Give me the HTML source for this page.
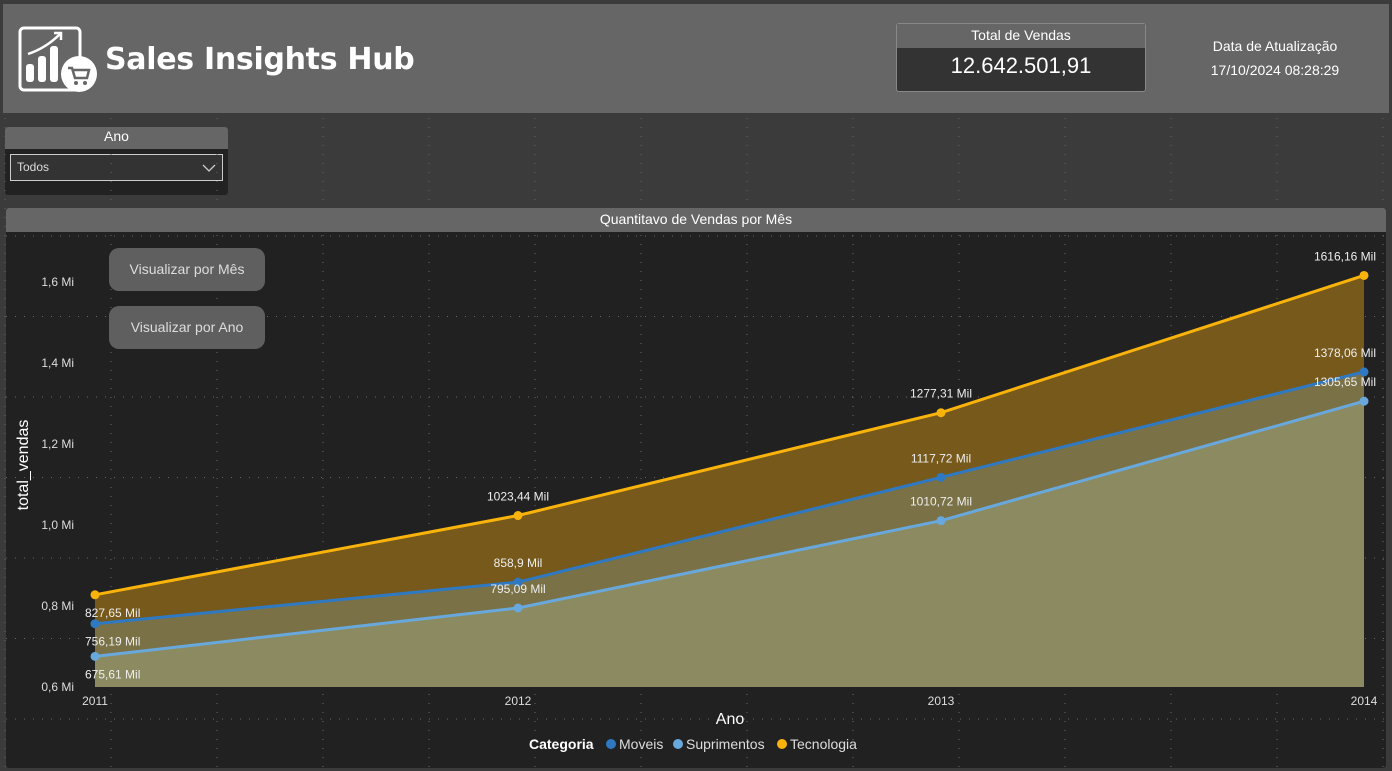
<!DOCTYPE html>
<html><head><meta charset="utf-8"><style>
body{margin:0;width:1392px;height:771px;background:#3b3b3b;overflow:hidden;font-family:"Liberation Sans",sans-serif;position:relative}
.abs{position:absolute}
</style></head><body>
<div class="abs" style="left:3px;top:4px;width:1386px;height:109px;background:#666"></div>
<svg class="abs" style="left:18px;top:26px" width="82" height="68" viewBox="0 0 82 68">
<rect x="2" y="2" width="60" height="62" rx="4" fill="none" stroke="#fff" stroke-width="3"/>
<rect x="8" y="38" width="8" height="18" rx="3" fill="#fff"/><rect x="20" y="30" width="8" height="26" rx="3" fill="#fff"/><rect x="32" y="20" width="8" height="36" rx="3" fill="#fff"/>
<path d="M10 28 Q28 22 42 8" stroke="#fff" stroke-width="2.5" fill="none"/><path d="M36 7 L43 7 L43 14" stroke="#fff" stroke-width="2.5" fill="none"/>
<circle cx="61" cy="48" r="18" fill="#fff"/><path d="M50 42 h4 l3 10 h12 l2-8 h-16" stroke="#666" stroke-width="2.5" fill="none"/><circle cx="58" cy="57" r="2" fill="#666"/><circle cx="67" cy="57" r="2" fill="#666"/>
</svg>
<div class="abs" style="left:105px;top:42px;font-size:30px;font-weight:bold;color:#fff;font-family:'DejaVu Sans',sans-serif;letter-spacing:-0.3px">Sales Insights Hub</div>
<div class="abs" style="left:896px;top:23px;width:250px;height:69px;background:#333;border:1px solid #888;border-radius:3px;box-sizing:border-box">
<div style="height:24px;background:#666;color:#fff;font-size:14px;text-align:center;line-height:22px">Total de Vendas</div>
<div style="color:#fff;font-size:22px;text-align:center;line-height:36px">12.642.501,91</div></div>
<div class="abs" style="left:1200px;top:34px;width:150px;text-align:center;color:#fff;font-size:14px;line-height:24px">Data de Atualização<br>17/10/2024 08:28:29</div>
<div class="abs" style="left:5px;top:127px;width:223px;height:68px;background:#222;border-radius:3px">
<div style="height:22px;background:#666;color:#fff;font-size:14px;text-align:center;line-height:18px;border-radius:3px 3px 0 0">Ano</div>
<div style="position:absolute;left:5px;top:27px;width:213px;height:27px;border:1px solid #ccc;box-sizing:border-box;background:#333;color:#ddd;font-size:12px;line-height:25px;padding-left:6px">Todos<svg style="position:absolute;right:6px;top:9px" width="14" height="9"><path d="M1 1 L7 7 L13 1" stroke="#ccc" fill="none" stroke-width="1.3"/></svg></div></div>
<div class="abs" style="left:6px;top:208px;width:1380px;height:560px;background:#212121;border-radius:3px">
<div style="height:24px;background:#666;color:#fff;font-size:14px;text-align:center;line-height:22px;border-radius:3px 3px 0 0">Quantitavo de Vendas por Mês</div></div>
<svg class="abs" id="chart" style="left:0;top:0" width="1392" height="771"></svg>
<div class="abs" style="left:109px;top:248px;width:156px;height:43px;background:#5f5f5f;border-radius:10px;color:#ddd;font-size:14px;text-align:center;line-height:43px">Visualizar por Mês</div>
<div class="abs" style="left:109px;top:306px;width:156px;height:43px;background:#5f5f5f;border-radius:10px;color:#ddd;font-size:14px;text-align:center;line-height:43px">Visualizar por Ano</div>
<script>
const years=["2011","2012","2013","2014"];
const tecnologia=[827.65,1023.44,1277.31,1616.16];
const moveis=[756.19,858.9,1117.72,1378.06];
const suprimentos=[675.61,795.09,1010.72,1305.65];
const yTicks=[0.6,0.8,1.0,1.2,1.4,1.6];
const yTickLabels=["0,6 Mi","0,8 Mi","1,0 Mi","1,2 Mi","1,4 Mi","1,6 Mi"];
const NS="http://www.w3.org/2000/svg";
const svg=document.getElementById('chart');
const x=i=>95+i*(1364-95)/(years.length-1);
const y=v=>687-(v/1000-0.6)*405;
function el(t,a){const e=document.createElementNS(NS,t);for(const k in a)e.setAttribute(k,a[k]);svg.appendChild(e);return e;}
for(let gx=5;gx<1390;gx+=106){const g=el('line',{x1:gx,y1:118,x2:gx,y2:768,stroke:'#666','stroke-dasharray':'1 8'});}
for(let gy=236;gy<768;gy+=80.5){const g=el('line',{x1:6,y1:gy,x2:1386,y2:gy,stroke:'#666','stroke-dasharray':'1 8'});}
yTicks.forEach((t,i)=>{const e=el('text',{x:74,y:y(t*1000)+4,'text-anchor':'end',fill:'#ddd','font-size':12});e.textContent=yTickLabels[i];});
years.forEach((t,i)=>{const e=el('text',{x:x(i),y:705,'text-anchor':'middle',fill:'#ddd','font-size':12});e.textContent=t;});
const series=[{n:'tecnologia',d:tecnologia,fill:'#76591b',line:'#f9b30b'},{n:'moveis',d:moveis,fill:'#7a7146',line:'#2f79c2'},{n:'suprimentos',d:suprimentos,fill:'#8c8a60',line:'#68a8dc'}];
series.forEach(s=>{let p='M'+x(0)+' 687';s.d.forEach((v,i)=>p+=' L'+x(i)+' '+y(v));p+=' L'+x(s.d.length-1)+' 687 Z';const a=el('path',{d:p,fill:s.fill});});
series.forEach(s=>{const pts=s.d.map((v,i)=>x(i)+','+y(v)).join(' ');const l=el('polyline',{points:pts,fill:'none',stroke:s.line,'stroke-width':3});
s.d.forEach((v,i)=>{const c=el('circle',{cx:x(i),cy:y(v),r:4.5,fill:s.line});
const last=i==s.d.length-1;
const t=el('text',{x:i==0?x(i)-10:(last?x(i)+12:x(i)),y:i==0?y(v)+22:y(v)-15,'text-anchor':i==0?'start':(last?'end':'middle'),fill:'#eee','font-size':12});
t.textContent=v.toFixed(2).replace(/0$/,'').replace('.',',')+' Mil';});});
let e=el('text',{x:730,y:724,'text-anchor':'middle',fill:'#fff','font-size':16});e.textContent='Ano';
e=el('text',{x:28,y:465,'text-anchor':'middle',fill:'#fff','font-size':16,transform:'rotate(-90 28 465)'});e.textContent='total_vendas';
e=el('text',{x:529,y:749,fill:'#fff','font-size':14,'font-weight':'bold'});e.textContent='Categoria';
[['Moveis','#2f79c2',611],['Suprimentos','#68a8dc',678],['Tecnologia','#f9b30b',782]].forEach(l=>{const c=el('circle',{cx:l[2],cy:744,r:5,fill:l[1]});const t=el('text',{x:l[2]+8,y:749,fill:'#ddd','font-size':14});t.textContent=l[0];});
</script>
</body></html>
